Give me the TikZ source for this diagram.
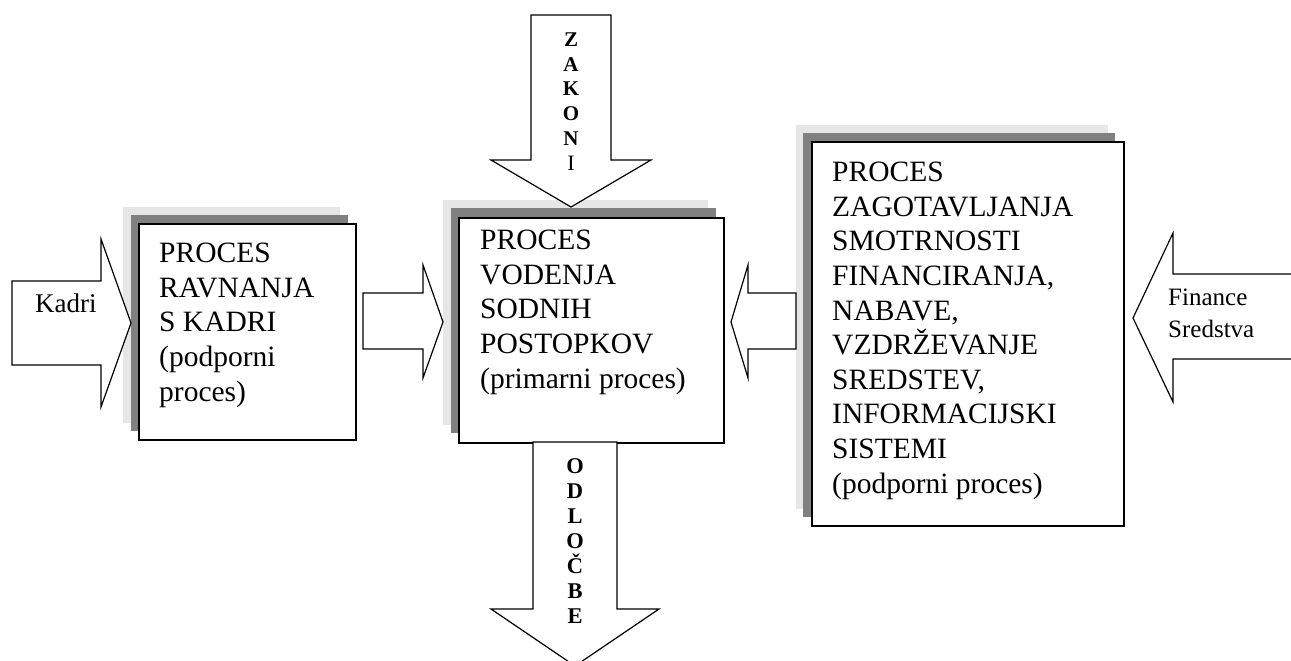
\documentclass[tikz,border=0pt]{standalone}
\usepackage{fontspec}
\setmainfont{Liberation Serif}
\definecolor{lightsh}{HTML}{E6E6E6}
\definecolor{darksh}{HTML}{808080}
\begin{document}
\begin{tikzpicture}[x=1pt,y=-1pt,
  lightshadow/.style={fill=lightsh,draw=none},
  darkshadow/.style={fill=darksh,draw=none},
  procbox/.style={draw=black,line width=1.8pt,fill=white,inner sep=0pt,anchor=north west},
  blockarrow/.style={draw=black,line width=1.2pt,fill=white,line join=miter},
  boxtext/.style={font=\fontsize{29.5}{34.6}\selectfont,align=left,anchor=north west,inner sep=0pt},
  arrowlab/.style={font=\fontsize{25}{32}\selectfont,anchor=base west,inner sep=0pt},
  vlabz/.style={font=\bfseries\fontsize{21}{24.5}\selectfont,anchor=base,inner sep=0pt},
  vlabo/.style={font=\bfseries\fontsize{22.5}{25}\selectfont,anchor=base,inner sep=0pt}]
\useasboundingbox (0,0) rectangle (1291,661);
\clip (0,0) rectangle (1291,661);

% shadows and boxes
\fill[lightshadow] (123,207) rectangle ++(217,216);
\fill[darkshadow] (131,215) rectangle ++(217,216);
\node[procbox,minimum width=217pt,minimum height=216pt] (L) at (138,223) {};

\fill[lightshadow] (443,200) rectangle ++(265,225);
\fill[darkshadow] (451,208) rectangle ++(265,225);
\node[procbox,minimum width=265pt,minimum height=225pt] (C) at (458,217) {};

\fill[lightshadow] (796,125) rectangle ++(312,384);
\fill[darkshadow] (803,133) rectangle ++(312,384);
\node[procbox,minimum width=312pt,minimum height=384pt] (R) at (811,141) {};

% block arrows
\draw[blockarrow] (12,281) -- (101,281) -- (101,239) -- (131,323) -- (101,407) -- (101,365) -- (12,365) -- cycle;
\draw[blockarrow] (363,293) -- (423,293) -- (423,265) -- (443,322) -- (423,378) -- (423,349) -- (363,349) -- cycle;
\draw[blockarrow] (796,293) -- (748,293) -- (748,265) -- (731,322) -- (748,378) -- (748,349) -- (796,349) -- cycle;
\draw[blockarrow] (1300,274) -- (1173,274) -- (1173,233) -- (1133,318) -- (1173,402) -- (1173,359) -- (1300,359);
\draw[blockarrow] (531,15) -- (611,15) -- (611,160) -- (651,160) -- (571,207) -- (491,160) -- (531,160) -- cycle;
\draw[blockarrow] (533,442) -- (617,442) -- (617,609) -- (659,609) -- (575,666) -- (491,609) -- (533,609) -- cycle;

% box texts
\node[boxtext] (Lt) at (159,243) {PROCES\\RAVNANJA\\S KADRI\\(podporni\\proces)};
\node[boxtext] (Ct) at (480,230) {PROCES\\VODENJA\\SODNIH\\POSTOPKOV\\(primarni proces)};
\node[boxtext] (Rt) at (832,162) {PROCES\\ZAGOTAVLJANJA\\SMOTRNOSTI\\FINANCIRANJA,\\NABAVE,\\VZDRŽEVANJE\\SREDSTEV,\\INFORMACIJSKI\\SISTEMI\\(podporni proces)};

% arrow labels
\node[arrowlab,font=\fontsize{27}{32}\selectfont] (kadri) at (35,312) {Kadri};
\node[arrowlab] (fin) at (1168,305) {Finance};
\node[arrowlab] (sred) at (1168,337) {Sredstva};

\foreach \l [count=\i] in {Z,A,K,O,N}
  \node[vlabz] (zak\i) at (571,{22.1+24.6*\i}) {\l};
\node[vlabz,font=\fontsize{22}{24.5}\selectfont] (zak6) at (571,170.5) {I};
\foreach \l [count=\i] in {O,D,L,O,Č,B,E}
  \node[vlabo] (odl\i) at (575,{447.9+25.1*\i}) {\l};
\end{tikzpicture}
\end{document}
